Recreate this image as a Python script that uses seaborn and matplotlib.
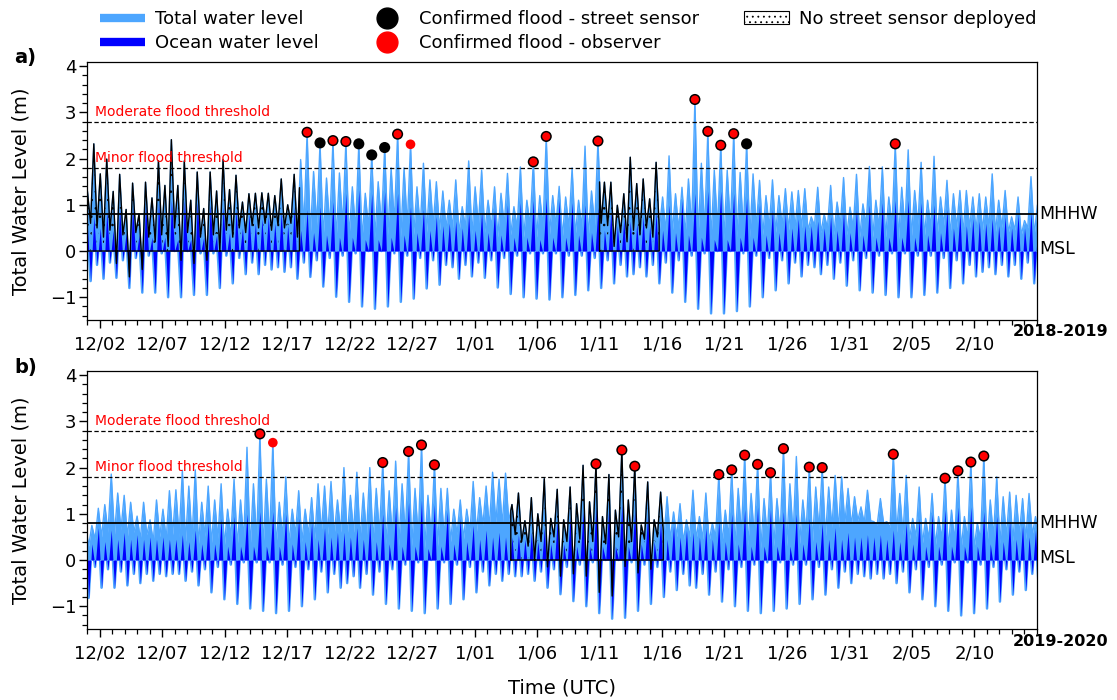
import numpy as np
import pandas as pd
import matplotlib
matplotlib.use("Agg")
import matplotlib.pyplot as plt
import matplotlib.dates as mdates
from matplotlib.lines import Line2D
from matplotlib.patches import Patch
from matplotlib.ticker import MultipleLocator, FixedLocator, FuncFormatter
import seaborn as sns

# ---------------------------------------------------------------------------
# Tide-by-tide extremes (m, relative to MSL).  Highs are listed in order
# (two per tidal day); each low follows the high listed at the same position.
# ---------------------------------------------------------------------------

# ---- winter 2018-2019 ----
start_a = "2018-12-01 00:00"
total_high_a = [
    1.30, 2.32, 1.67, 1.99, 1.29, 1.66, 0.90, 1.47, 0.80, 1.49, 1.15, 1.95, 1.42, 2.41, 1.42, 1.95, 1.10, 1.71, 0.92, 1.71,
    1.30, 1.98, 1.33, 1.64, 1.06, 1.24, 1.25, 1.26, 1.25, 1.20, 1.56, 1.00, 1.66, 1.98, 2.57, 1.72, 2.34, 1.58, 2.39, 1.69,
    2.37, 1.39, 2.32, 1.25, 2.08, 1.50, 2.24, 1.80, 2.53, 1.80, 2.31, 1.39, 1.90, 1.54, 1.50, 1.30, 1.10, 1.54, 0.96, 1.95,
    1.39, 1.75, 1.10, 1.39, 1.25, 1.68, 0.96, 1.82, 1.10, 1.93, 1.20, 2.48, 1.20, 1.40, 1.17, 1.80, 1.10, 2.27, 1.30, 2.38,
    1.49, 1.49, 0.99, 1.24, 2.03, 1.46, 1.56, 1.13, 1.92, 1.17, 2.06, 1.24, 1.38, 1.56, 3.28, 1.90, 2.59, 1.75, 2.29, 1.75,
    2.54, 1.70, 2.32, 1.67, 1.53, 1.20, 1.54, 1.20, 1.35, 1.28, 1.31, 1.35, 0.74, 1.38, 0.80, 1.42, 1.06, 1.59, 0.95, 1.66,
    1.02, 1.83, 1.10, 1.82, 1.17, 2.32, 1.38, 2.19, 1.31, 1.92, 1.10, 2.05, 1.17, 1.53, 1.24, 1.31, 1.31, 1.17, 1.24, 1.17,
    1.67, 1.10, 1.31, 0.74, 1.17, 0.66, 1.61, 1.00,
]
total_low_a = [
    0.60, 0.50, 0.30, 0.45, -0.27, 0.35, -0.56, 0.40, -0.40, 0.30, 0.20, 0.35, 0.10, 0.50, -0.20, 0.40, -0.27, 0.30, -0.20, 0.35,
    0.00, 0.45, 0.30, 0.50, 0.40, 0.55, 0.50, 0.60, 0.45, 0.55, 0.50, 0.60, 0.30, 0.50, 0.35, 0.55, 0.30, 0.50, 0.25, 0.55,
    0.30, 0.45, 0.25, 0.50, 0.30, 0.55, 0.35, 0.60, 0.30, 0.55, 0.35, 0.50, 0.40, 0.55, 0.45, 0.50, 0.50, 0.40, 0.50, 0.35,
    0.55, 0.40, 0.50, 0.30, 0.55, 0.35, 0.50, 0.30, 0.55, 0.30, 0.50, 0.35, 0.55, 0.30, 0.50, 0.35, 0.50, 0.30, 0.55, 0.60,
    0.55, 0.10, 0.40, 0.20, 0.45, 0.35, 0.50, 0.30, 0.45, 0.40, 0.40, 0.45, 0.35, 0.50, 0.30, 0.45, 0.25, 0.50, 0.25, 0.50,
    0.30, 0.45, 0.30, 0.50, 0.35, 0.50, 0.40, 0.55, 0.45, 0.50, 0.50, 0.45, 0.55, 0.40, 0.50, 0.35, 0.55, 0.35, 0.50, 0.30,
    0.55, 0.30, 0.50, 0.30, 0.55, 0.25, 0.50, 0.30, 0.55, 0.30, 0.50, 0.35, 0.55, 0.35, 0.50, 0.40, 0.50, 0.45, 0.45, 0.50,
    0.40, 0.50, 0.40, 0.45, 0.35, 0.50, 0.35, 0.45,
]
ocean_high_a = [
    0.55, 0.75, 0.50, 0.85, 0.45, 0.90, 0.40, 0.95, 0.35, 1.00, 0.30, 1.05, 0.30, 1.10, 0.25, 1.10, 0.25, 1.05, 0.30, 1.00,
    0.35, 0.95, 0.40, 0.90, 0.50, 0.80, 0.60, 0.70, 0.75, 0.60, 0.85, 0.55, 0.95, 0.45, 0.90, 0.40, 0.96, 0.35, 1.07, 0.30,
    1.25, 0.30, 1.33, 0.25, 1.25, 0.25, 1.29, 0.30, 1.25, 0.35, 0.96, 0.40, 0.90, 0.45, 0.75, 0.55, 0.60, 0.65, 0.50, 0.80,
    0.45, 0.85, 0.40, 0.90, 0.35, 1.00, 0.30, 1.05, 0.30, 1.10, 0.25, 1.15, 0.30, 1.10, 0.30, 1.05, 0.35, 1.00, 0.40, 0.95,
    0.45, 0.85, 0.55, 0.70, 0.65, 0.60, 0.75, 0.55, 0.85, 0.45, 1.00, 0.40, 1.10, 0.35, 1.25, 0.30, 1.30, 0.25, 1.30, 0.25,
    1.25, 0.30, 1.15, 0.30, 1.00, 0.35, 0.90, 0.40, 0.80, 0.50, 0.70, 0.55, 0.55, 0.65, 0.50, 0.75, 0.45, 0.85, 0.40, 0.90,
    0.35, 1.00, 0.30, 1.05, 0.30, 1.10, 0.30, 1.10, 0.30, 1.05, 0.35, 1.00, 0.40, 0.90, 0.50, 0.80, 0.55, 0.70, 0.65, 0.60,
    0.70, 0.55, 0.75, 0.50, 0.80, 0.50, 0.85, 0.45,
]
ocean_low_a = [
    -0.65, -0.30, -0.60, -0.25, -0.58, -0.20, -0.80, -0.15, -0.90, -0.10, -0.90, -0.05, -1.00, 0.00, -1.00, 0.00, -0.95, -0.05, -0.95, -0.05,
    -0.80, -0.10, -0.70, -0.15, -0.50, -0.25, -0.50, -0.30, -0.40, -0.35, -0.45, -0.35, -0.60, -0.25, -0.56, -0.20, -0.77, -0.15, -0.99, -0.10,
    -1.10, -0.05, -1.20, 0.00, -1.25, 0.00, -1.20, -0.05, -1.10, -0.10, -1.03, -0.15, -0.81, -0.20, -0.73, -0.30, -0.35, -0.60, -0.30, -0.55,
    -0.25, -0.58, -0.20, -0.79, -0.15, -0.93, -0.10, -1.00, -0.05, -1.03, -0.05, -1.05, -0.05, -1.00, -0.10, -0.95, -0.10, -0.85, -0.15, -0.80,
    -0.20, -0.70, -0.30, -0.55, -0.50, -0.35, -0.55, -0.30, -0.70, -0.25, -0.90, -0.20, -1.10, -0.10, -1.25, -0.05, -1.35, 0.00, -1.35, 0.00,
    -1.30, -0.05, -1.20, -0.10, -1.00, -0.15, -0.85, -0.20, -0.70, -0.25, -0.55, -0.30, -0.35, -0.50, -0.30, -0.60, -0.25, -0.75, -0.20, -0.85,
    -0.15, -0.90, -0.10, -0.95, -0.05, -1.00, -0.05, -1.00, -0.10, -0.95, -0.10, -0.90, -0.15, -0.80, -0.20, -0.70, -0.30, -0.55, -0.45, -0.35,
    -0.50, -0.30, -0.55, -0.30, -0.60, -0.25, -0.70, -0.25,
]
no_sensor_a = [("2018-12-01 00:00", "2018-12-17 23:30"),
               ("2019-01-11 00:00", "2019-01-15 18:30")]
sensor_floods_a = ["2018-12-18 14:10", "2018-12-19 15:00", "2018-12-20 15:50", "2018-12-21 16:40",
                   "2018-12-22 17:30", "2018-12-23 18:20", "2018-12-24 19:10", "2018-12-25 20:00",
                   "2019-01-05 16:45", "2019-01-06 17:35", "2019-01-10 20:55", "2019-01-18 15:10",
                   "2019-01-19 16:00", "2019-01-20 16:50", "2019-01-21 17:40", "2019-01-22 18:30",
                   "2019-02-03 16:05"]
observer_floods_a = ["2018-12-18 14:10", "2018-12-20 15:50", "2018-12-21 16:40", "2018-12-25 20:00",
                     "2018-12-26 20:50", "2019-01-05 16:45", "2019-01-06 17:35", "2019-01-10 20:55",
                     "2019-01-18 15:10", "2019-01-19 16:00", "2019-01-20 16:50", "2019-01-21 17:40",
                     "2019-02-03 16:05"]

# ---- winter 2019-2020 ----
start_b = "2019-11-30 20:15"
total_high_b = [
    0.80, 0.75, 1.12, 1.20, 1.86, 1.45, 1.40, 1.25, 0.95, 1.25, 0.87, 1.30, 1.10, 1.50, 1.52, 1.94, 1.60, 1.95, 1.25, 1.60,
    1.30, 1.65, 1.10, 1.75, 1.30, 2.44, 1.65, 2.73, 1.75, 2.54, 1.25, 1.80, 1.10, 1.50, 1.10, 1.35, 1.65, 1.60, 1.70, 1.30,
    2.00, 1.40, 1.90, 1.45, 2.00, 1.55, 2.11, 1.50, 2.14, 1.65, 2.35, 1.55, 2.49, 1.40, 2.06, 1.55, 1.55, 1.10, 1.30, 1.10,
    1.70, 1.35, 1.60, 1.90, 1.75, 1.88, 1.20, 1.45, 0.85, 1.35, 1.00, 1.76, 0.90, 1.53, 0.87, 1.58, 1.22, 2.05, 1.26, 2.08,
    0.94, 1.85, 1.08, 2.38, 1.30, 2.03, 0.76, 1.69, 0.87, 1.47, 1.37, 1.04, 1.22, 0.87, 1.51, 0.94, 1.45, 0.80, 1.85, 1.08,
    1.95, 1.55, 2.27, 1.44, 2.07, 1.33, 1.89, 1.33, 2.41, 1.65, 2.24, 1.30, 2.01, 1.58, 2.00, 1.58, 1.83, 1.80, 1.55, 1.37,
    1.15, 1.51, 0.83, 1.33, 0.83, 2.29, 1.44, 1.83, 0.90, 1.58, 0.90, 1.44, 0.94, 1.77, 1.08, 1.93, 0.94, 2.12, 0.80, 2.25,
    1.30, 1.80, 1.37, 1.47, 1.40, 1.33, 1.44, 0.94,
]
total_low_b = [
    0.30, 0.45, 0.50, 0.60, 0.55, 0.65, 0.50, 0.60, 0.45, 0.55, 0.40, 0.50, 0.45, 0.55, 0.50, 0.40, 0.45, 0.35, 0.50, 0.35,
    0.45, 0.30, 0.50, 0.30, 0.45, 0.25, 0.40, 0.25, 0.45, 0.30, 0.50, 0.35, 0.55, 0.40, 0.55, 0.45, 0.60, 0.55, 0.55, 0.60,
    0.50, 0.60, 0.45, 0.55, 0.40, 0.55, 0.35, 0.50, 0.30, 0.55, 0.30, 0.50, 0.25, 0.50, 0.30, 0.50, 0.40, 0.55, 0.45, 0.60,
    0.60, 0.75, 0.70, 0.80, 0.75, 0.85, 0.55, 0.40, 0.30, 0.00, 0.40, -0.15, 0.50, -0.35, 0.40, -0.30, 0.45, -0.35, 0.40, -0.70,
    0.35, -0.78, 0.50, -0.14, 0.40, -0.28, 0.45, -0.20, 0.50, 0.45, 0.45, 0.50, 0.40, 0.50, 0.45, 0.45, 0.40, 0.50, 0.35, 0.50,
    0.30, 0.55, 0.30, 0.50, 0.25, 0.50, 0.30, 0.55, 0.30, 0.55, 0.35, 0.60, 0.40, 0.65, 0.50, 0.70, 0.65, 0.80, 0.75, 0.85,
    0.80, 0.85, 0.75, 0.80, 0.70, 0.60, 0.55, 0.45, 0.50, 0.35, 0.45, 0.30, 0.45, 0.25, 0.40, 0.25, 0.45, 0.25, 0.45, 0.30,
    0.50, 0.35, 0.50, 0.40, 0.55, 0.45, 0.55, 0.45,
]
ocean_high_b = [
    0.75, 0.35, 0.70, 0.40, 0.65, 0.45, 0.60, 0.45, 0.55, 0.45, 0.50, 0.45, 0.50, 0.45, 0.45, 0.55, 0.40, 0.65, 0.35, 0.80,
    0.35, 0.90, 0.30, 0.95, 0.30, 1.00, 0.30, 1.05, 0.30, 1.05, 0.30, 1.00, 0.35, 0.90, 0.40, 0.80, 0.45, 0.70, 0.50, 0.60,
    0.60, 0.50, 0.70, 0.45, 0.85, 0.40, 1.00, 0.35, 1.15, 0.30, 1.25, 0.30, 1.30, 0.25, 1.20, 0.30, 1.05, 0.35, 0.90, 0.40,
    0.75, 0.45, 0.65, 0.50, 0.60, 0.50, 0.50, 0.55, 0.45, 0.60, 0.40, 0.70, 0.35, 0.85, 0.35, 0.95, 0.30, 1.05, 0.30, 1.15,
    0.30, 1.20, 0.30, 1.20, 0.30, 1.10, 0.35, 1.00, 0.40, 0.85, 0.45, 0.75, 0.50, 0.65, 0.60, 0.50, 0.70, 0.45, 0.85, 0.40,
    1.00, 0.35, 1.10, 0.30, 1.15, 0.30, 1.10, 0.30, 1.05, 0.30, 1.00, 0.35, 0.90, 0.40, 0.80, 0.45, 0.70, 0.45, 0.60, 0.50,
    0.50, 0.55, 0.50, 0.55, 0.45, 0.65, 0.40, 0.80, 0.35, 0.90, 0.30, 1.00, 0.30, 1.10, 0.30, 1.15, 0.30, 1.15, 0.30, 1.05,
    0.35, 0.95, 0.40, 0.85, 0.45, 0.75, 0.50, 0.65,
]
ocean_low_b = [
    -0.82, -0.15, -0.60, -0.20, -0.60, -0.25, -0.55, -0.30, -0.50, -0.30, -0.45, -0.30, -0.35, -0.30, -0.30, -0.45, -0.25, -0.55, -0.20, -0.70,
    -0.15, -0.85, -0.10, -0.95, -0.05, -1.05, -0.05, -1.10, -0.05, -1.15, -0.10, -1.10, -0.15, -1.00, -0.20, -0.85, -0.25, -0.70, -0.30, -0.60,
    -0.50, -0.35, -0.60, -0.30, -0.75, -0.25, -0.95, -0.20, -1.05, -0.10, -1.10, -0.05, -1.15, 0.00, -1.05, -0.05, -0.95, -0.10, -0.85, -0.15,
    -0.70, -0.25, -0.55, -0.30, -0.45, -0.30, -0.35, -0.35, -0.30, -0.45, -0.25, -0.60, -0.20, -0.74, -0.15, -0.89, -0.10, -1.00, -0.05, -1.15,
    0.00, -1.27, 0.00, -1.25, -0.05, -1.10, -0.10, -0.95, -0.15, -0.80, -0.25, -0.65, -0.30, -0.55, -0.60, -0.30, -0.75, -0.25, -0.90, -0.20,
    -1.00, -0.15, -1.10, -0.10, -1.15, -0.05, -1.10, -0.05, -1.05, -0.10, -0.95, -0.10, -0.85, -0.15, -0.75, -0.20, -0.60, -0.25, -0.50, -0.30,
    -0.35, -0.40, -0.30, -0.40, -0.30, -0.50, -0.25, -0.70, -0.20, -0.85, -0.15, -1.00, -0.10, -1.10, -0.05, -1.20, -0.05, -1.15, -0.10, -1.05,
    -0.15, -0.90, -0.20, -0.75, -0.25, -0.65, -0.30, -0.60,
]
no_sensor_b = [("2020-01-03 21:30", "2020-01-16 02:30")]
sensor_floods_b = ["2019-12-14 19:30", "2019-12-24 15:25", "2019-12-26 17:05", "2019-12-27 17:55",
                   "2019-12-28 18:45", "2020-01-10 17:10", "2020-01-12 18:50", "2020-01-13 19:40",
                   "2020-01-20 13:05", "2020-01-21 13:55", "2020-01-22 14:45", "2020-01-23 15:35",
                   "2020-01-24 16:25", "2020-01-25 17:15", "2020-01-27 18:55", "2020-01-28 19:45",
                   "2020-02-03 12:20", "2020-02-07 15:40", "2020-02-08 16:30", "2020-02-09 17:20",
                   "2020-02-10 18:10"]
observer_floods_b = sensor_floods_b + ["2019-12-15 20:20"]

# Reference levels (m)
MODERATE_FLOOD = 2.8
MINOR_FLOOD = 1.8
MHHW = 0.8
MSL = 0.0

TIDE_STEP_MIN = 745          # mean semidiurnal tidal interval (12 h 25 min)
LIGHT = "#4da6ff"
DARK = "#0000ff"

# ---------------------------------------------------------------------------
sns.set_theme(style="ticks")
plt.rcParams["font.family"] = ["DejaVu Sans"]
plt.rcParams.update({
    "hatch.linewidth": 0.6,
    "axes.linewidth": 0.9,
    "axes.edgecolor": "black",
    "text.color": "black",
    "axes.labelcolor": "black",
    "xtick.color": "black",
    "ytick.color": "black",
})


def tide_series(start, highs, lows):
    n = len(highs)
    t_high = pd.Timestamp(start) + pd.to_timedelta(np.arange(n) * TIDE_STEP_MIN, unit="min")
    t_low = t_high + pd.Timedelta(minutes=TIDE_STEP_MIN / 2)
    times = np.column_stack([t_high.values, t_low.values]).ravel()
    values = np.column_stack([highs, lows]).ravel()
    return mdates.date2num(times), values, mdates.date2num(t_high.values)


def date_label(v, pos=None):
    d = mdates.num2date(v)
    return f"{d.month}/{d.day:02d}"


def draw_panel(ax, start, th, tl, oh, ol, no_sensor, sensor, observer, first_day):
    x, total, x_high = tide_series(start, th, tl)
    _, ocean, _ = tide_series(start, oh, ol)

    # total water level
    ax.fill_between(x, 0, total, color=LIGHT, linewidth=0, zorder=1)
    sns.lineplot(x=x, y=total, ax=ax, color=LIGHT, linewidth=1.0, sort=False, zorder=1.2)

    # periods without a street sensor: hatched, outlined
    outlines = []
    for s, e in no_sensor:
        xs, xe = mdates.date2num(pd.Timestamp(s)), mdates.date2num(pd.Timestamp(e))
        inside = (x > xs) & (x < xe)
        seg_x = np.concatenate([[xs], x[inside], [xe]])
        seg_y = np.interp(seg_x, x, total)
        ax.fill_between(seg_x, 0, seg_y, facecolor="none", edgecolor="black",
                        hatch="..", linewidth=0, zorder=1.5)
        outlines.append((np.concatenate([[xs], seg_x, [xe, xs]]),
                         np.concatenate([[0], seg_y, [0, 0]])))

    # ocean water level
    sns.lineplot(x=x, y=ocean, ax=ax, color=LIGHT, linewidth=1.8, sort=False, zorder=1.8)
    ax.fill_between(x, 0, ocean, color=DARK, linewidth=0, zorder=2)

    for ox, oy in outlines:
        ax.plot(ox, oy, color="black", linewidth=1.0, zorder=3)

    # thresholds and datums
    for lvl in (MODERATE_FLOOD, MINOR_FLOOD):
        ax.axhline(lvl, color="black", linewidth=0.9, linestyle=(0, (3.5, 2)), zorder=4)
    ax.axhline(MHHW, color="black", linewidth=1.3, zorder=4)
    tr = ax.get_yaxis_transform()
    ax.text(0.008, MODERATE_FLOOD + 0.06, "Moderate flood threshold", transform=tr,
            color="red", fontsize=10, va="bottom", ha="left", zorder=6)
    ax.text(0.008, MINOR_FLOOD + 0.06, "Minor flood threshold", transform=tr,
            color="red", fontsize=10, va="bottom", ha="left", zorder=6)
    ax.text(1.003, MHHW, "MHHW", transform=tr, fontsize=12.5, va="center", ha="left")
    ax.text(1.003, MSL + 0.05, "MSL", transform=tr, fontsize=12.5, va="center", ha="left")

    # confirmed floods, placed on the high tide they were reported for
    highs = np.asarray(th)

    def snap(dates):
        d = mdates.date2num(pd.to_datetime(dates).values)
        return np.abs(x_high[None, :] - d[:, None]).argmin(axis=1)

    s_idx = snap(sensor)
    o_idx = snap(observer)
    sns.scatterplot(x=x_high[s_idx], y=highs[s_idx], ax=ax, color="black", s=64,
                    edgecolor="none", legend=False, zorder=5)
    o_size = np.where(np.isin(o_idx, s_idx), 34, 48)
    ax.scatter(x_high[o_idx], highs[o_idx], s=o_size, color="red", edgecolor="none", zorder=6)

    # axes
    first = pd.Timestamp(first_day)
    ax.set_xlim(mdates.date2num(first), mdates.date2num(first + pd.Timedelta(days=76)))
    ax.set_ylim(-1.5, 4.1)
    majors = pd.date_range(first + pd.Timedelta(days=1), periods=15, freq="5D")
    ax.xaxis.set_major_locator(FixedLocator(mdates.date2num(majors)))
    ax.xaxis.set_major_formatter(FuncFormatter(date_label))
    ax.xaxis.set_minor_locator(FixedLocator(mdates.date2num(pd.date_range(first, periods=77, freq="D"))))
    ax.yaxis.set_major_locator(FixedLocator([-1, 0, 1, 2, 3, 4]))
    ax.yaxis.set_minor_locator(MultipleLocator(0.2))
    ax.tick_params(axis="both", which="major", length=6, width=1.0, labelsize=13, direction="out")
    ax.tick_params(axis="both", which="minor", length=3.5, width=0.9, direction="out")
    ax.tick_params(axis="x", which="major", pad=5)
    ax.tick_params(axis="y", which="major", pad=2)
    ax.set_xlabel("")
    ax.set_ylabel("Total Water Level (m)", fontsize=14, labelpad=14)
    for sp in ax.spines.values():
        sp.set_visible(True)
        sp.set_linewidth(0.9)


fig = plt.figure(figsize=(11.17, 7.0), dpi=100)
ax_a = fig.add_axes([0.0782, 0.5424, 0.8500, 0.3696])
ax_b = fig.add_axes([0.0782, 0.1010, 0.8500, 0.3696])

draw_panel(ax_a, start_a, total_high_a, total_low_a, ocean_high_a, ocean_low_a,
           no_sensor_a, sensor_floods_a, observer_floods_a, "2018-12-01")
draw_panel(ax_b, start_b, total_high_b, total_low_b, ocean_high_b, ocean_low_b,
           no_sensor_b, sensor_floods_b, observer_floods_b, "2019-12-01")

fig.text(1108 / 1117, 1 - 331 / 700, "2018-2019", ha="right", va="center", fontsize=11.5, weight="bold")
fig.text(1108 / 1117, 1 - 641 / 700, "2019-2020", ha="right", va="center", fontsize=11.5, weight="bold")
fig.text(14 / 1117, 1 - 58 / 700, "a)", ha="left", va="center", fontsize=14, weight="bold")
fig.text(14 / 1117, 1 - 368 / 700, "b)", ha="left", va="center", fontsize=14, weight="bold")
fig.text(562 / 1117, 1 - 688 / 700, "Time (UTC)", ha="center", va="center", fontsize=14)

handles = [
    Line2D([], [], color=LIGHT, linewidth=6, solid_capstyle="butt"),
    Line2D([], [], color=DARK, linewidth=6, solid_capstyle="butt"),
    Line2D([], [], color="black", marker="o", linestyle="none", markersize=15),
    Line2D([], [], color="red", marker="o", linestyle="none", markersize=15),
    Patch(facecolor="white", edgecolor="black", hatch="...", linewidth=0.8),
]
labels = ["Total water level", "Ocean water level", "Confirmed flood - street sensor",
          "Confirmed flood - observer", "No street sensor deployed"]
fig.legend(handles, labels, ncol=3, loc="upper left", bbox_to_anchor=(100 / 1117, 1 - 10 / 700),
           frameon=False, fontsize=13, handlelength=2.5, handletextpad=0.55,
           columnspacing=2.5, labelspacing=0.35, borderpad=0, borderaxespad=0)

fig.savefig("out.png", dpi=100)
